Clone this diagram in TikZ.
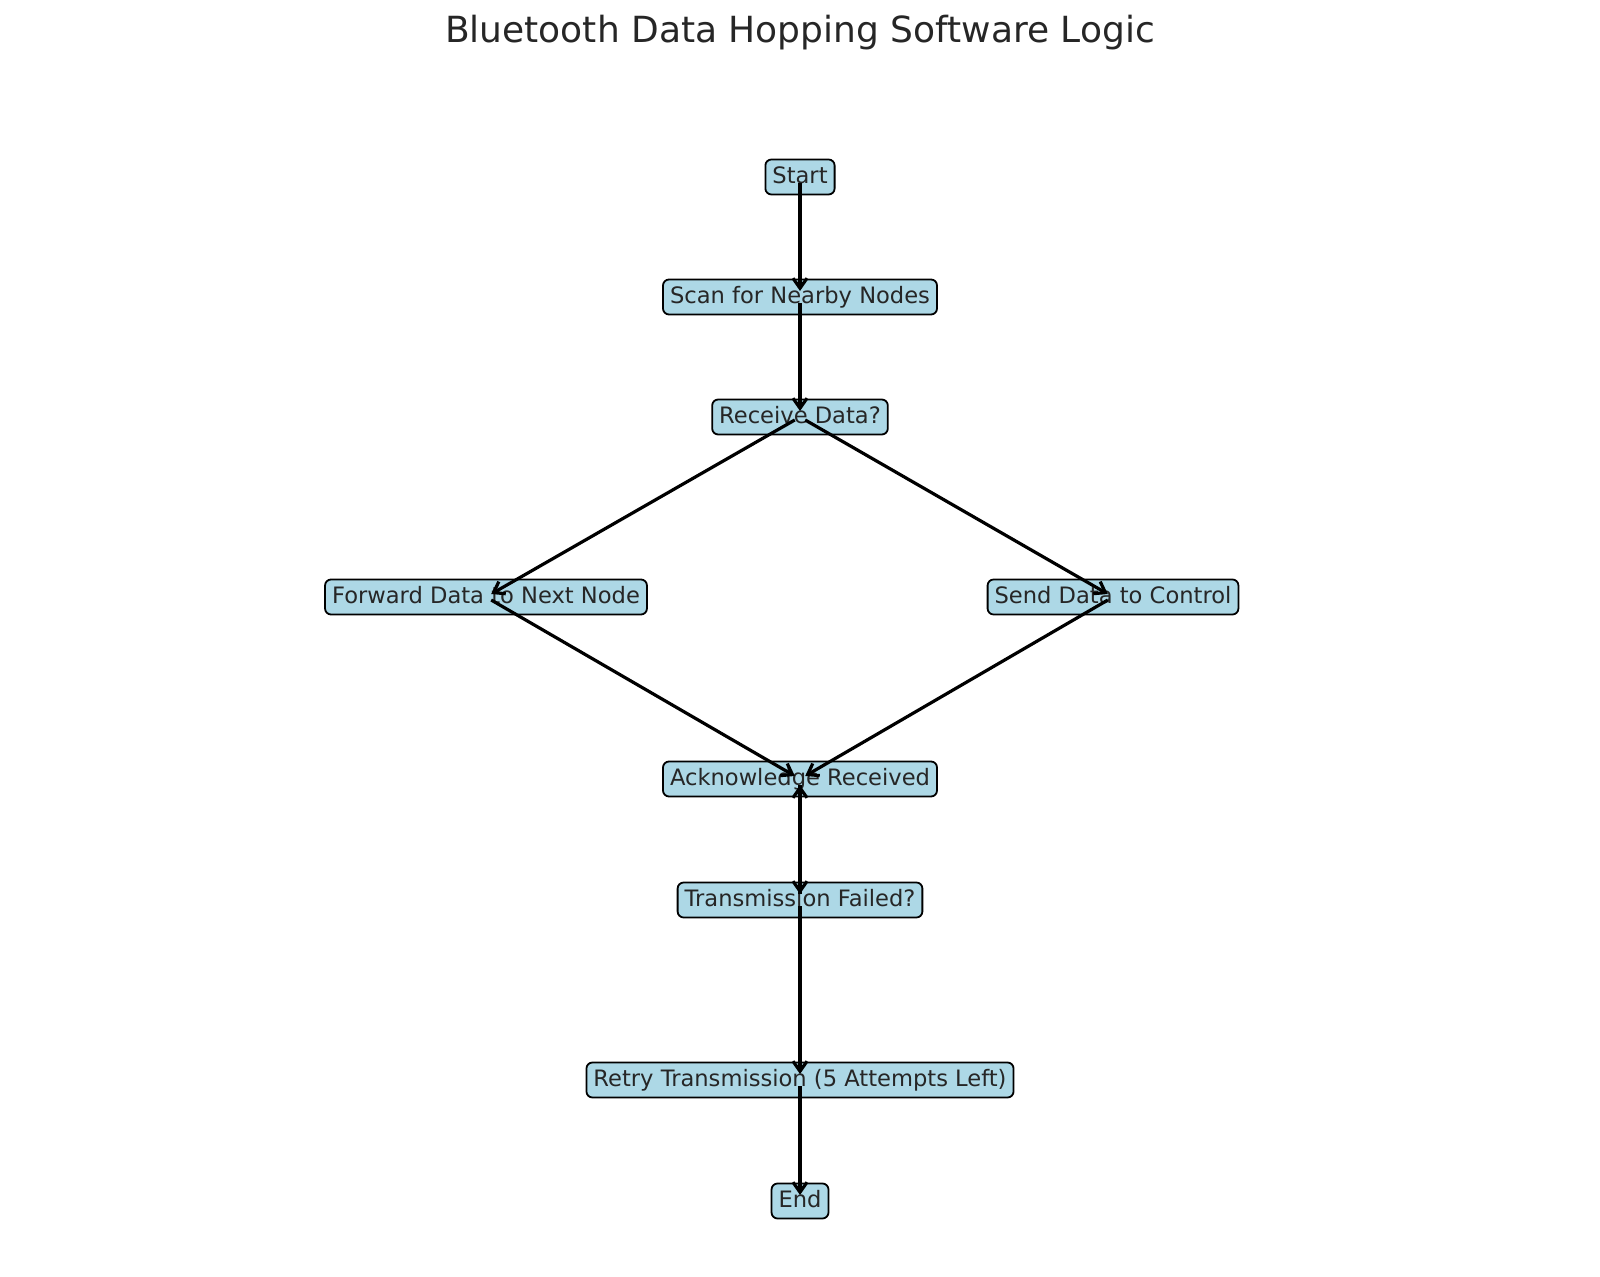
\documentclass[tikz,border=0pt]{standalone}
\usepackage{fontspec}
\setmainfont{DejaVu Sans}
\usetikzlibrary{arrows.meta}
\definecolor{boxfill}{HTML}{ADD8E6}
\definecolor{txt}{HTML}{262626}
\begin{document}
\begin{tikzpicture}[x=0.5pt,y=-0.5pt,
  flowbox/.style={draw=black, fill=boxfill, line width=0.9pt, rounded corners=3pt,
    font=\fontsize{11.3}{13}\selectfont, text=txt, inner xsep=3.5pt, inner ysep=0pt,
    minimum height=17.5pt, text height=8.4pt, text depth=2.3pt},
  flowarrow/.style={line width=1.6pt, -{Straight Barb[length=5pt,width=7pt,line width=1.6pt]},
    shorten >=3pt, shorten <=3pt}]
\useasboundingbox (0,0) rectangle (1600,1277);
\node[font=\fontsize{18}{21}\selectfont, text=txt] (title) at (800,33) {Bluetooth Data Hopping Software Logic};
\node[flowbox] (start) at (800,177) {Start};
\node[flowbox] (scan) at (800,297) {Scan for Nearby Nodes};
\node[flowbox] (recv) at (800,417) {Receive Data?};
\node[flowbox] (fwd) at (486,597) {Forward Data to Next Node};
\node[flowbox] (send) at (1113,597) {Send Data to Control};
\node[flowbox] (ack) at (800,779) {Acknowledge Received};
\node[flowbox] (fail) at (800,900) {Transmission Failed?};
\node[flowbox] (retry) at (800,1080) {Retry Transmission (5 Attempts Left)};
\node[flowbox] (end) at (800,1201) {End};
\draw[flowarrow] (start.center) -- (scan.center);
\draw[flowarrow] (scan.center) -- (recv.center);
\draw[flowarrow] (recv.center) -- (fwd.center);
\draw[flowarrow] (recv.center) -- (send.center);
\draw[flowarrow] (fwd.center) -- (ack.center);
\draw[flowarrow] (send.center) -- (ack.center);
\draw[flowarrow] (ack.center) -- (fail.center);
\draw[flowarrow] (fail.center) -- (ack.center);
\draw[flowarrow] (fail.center) -- (retry.center);
\draw[flowarrow] (retry.center) -- (end.center);
\end{tikzpicture}
\end{document}
